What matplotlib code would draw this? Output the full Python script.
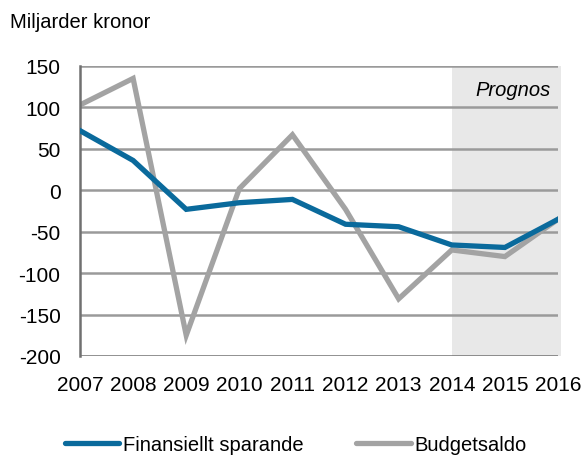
import matplotlib
matplotlib.use("Agg")
import matplotlib.pyplot as plt
from matplotlib.lines import Line2D

years = [2007, 2008, 2009, 2010, 2011, 2012, 2013, 2014, 2015, 2016]
finansiellt_sparande = [72, 36, -23, -15, -11, -41, -44, -66, -69, -35]
budgetsaldo = [103, 135, -175, 2, 67, -23, -131, -72, -80, -35]
yticks = [150, 100, 50, 0, -50, -100, -150, -200]
prognos_start = 2014

plt.rcParams['font.family'] = ['Liberation Sans', 'DejaVu Sans']

fig = plt.figure(figsize=(5.84, 4.56), dpi=100)
ax = fig.add_axes([80/584, 1-357/456, (558-80)/584, (357-67)/456])

blue = '#0a6a9c'
gray = '#a3a3a3'

span = ax.axvspan(prognos_start, years[-1] + 0.06, color='#e8e8e8', zorder=0, lw=0)
span.set_clip_on(False)
for t in yticks:
    ax.axhline(t, color='#707070' if t == yticks[-1] else '#9a9a9a', lw=1.8, zorder=1)

ax.plot(years, finansiellt_sparande, color=blue, lw=3.8, zorder=3, solid_joinstyle='miter')
ax.plot(years, budgetsaldo, color=gray, lw=3.8, zorder=2, solid_joinstyle='miter')

ax.set_xlim(years[0], years[-1])
ax.set_ylim(-200, 150)
ax.set_yticks(yticks)
ax.set_xticks(years)
ax.set_xticklabels([str(y) for y in years])
ax.set_yticklabels([str(t) for t in yticks])
ax.tick_params(axis='both', length=0, labelsize=15, colors='black')
ax.tick_params(axis='y', pad=14)
ax.tick_params(axis='x', pad=14)

for s in ['top', 'right', 'bottom']:
    ax.spines[s].set_visible(False)
ax.spines['left'].set_color('#707070')
ax.spines['left'].set_linewidth(1.8)

ax.text(0.985, 0.95, 'Prognos', transform=ax.transAxes, ha='right', va='top',
        fontsize=14.5, style='italic')

fig.text(10/584, 1-22/456, 'Miljarder kronor', ha='left', va='center', fontsize=14.5)

handles = [Line2D([], [], color=blue, lw=3.8, solid_capstyle='round'),
           Line2D([], [], color=gray, lw=3.8, solid_capstyle='round')]
fig.legend(handles, ['Finansiellt sparande', 'Budgetsaldo'], loc='center',
           bbox_to_anchor=(296/584, 1-446/456), ncol=2, frameon=False, fontsize=14.5,
           handlelength=2.7, handletextpad=0.2, columnspacing=2.6,
           borderpad=0, borderaxespad=0)

fig.savefig('out.png', dpi=100)
